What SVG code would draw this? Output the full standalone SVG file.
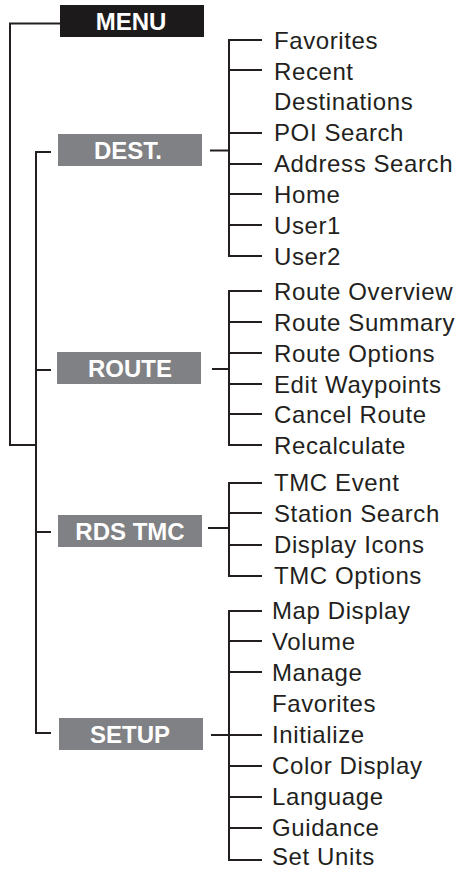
<svg xmlns="http://www.w3.org/2000/svg" width="461" height="870" viewBox="0 0 461 870">
<style>
.bx{fill:#808184}
.bk{fill:#1d1a1b}
.hd{font-family:"Liberation Sans",Arial,sans-serif;font-weight:bold;font-size:24px;fill:#fff;text-anchor:middle}
.it{font-family:"Liberation Sans",Arial,sans-serif;font-size:24px;letter-spacing:0.6px;fill:#231f20}
.ln{fill:none;stroke:#231f20;stroke-width:2}
</style>
<rect width="461" height="870" fill="#fff"/>
<g id="connectors" class="ln">
<path d="M60,23.5H10V445H36"/>
<path d="M51,152H36V733H51"/>
<path d="M36,370H51"/>
<path d="M36,532H51"/>
<path d="M210,150.5H229"/>
<path d="M262,40H229V256H262M229,70H262M229,133H262M229,164H262M229,194H262M229,225H262"/>
<path d="M212,369H229"/>
<path d="M262,291H229V445H262M229,322H262M229,353H262M229,384H262M229,414H262"/>
<path d="M208,528H229"/>
<path d="M262,483H229V576H262M229,513H262M229,545H262"/>
<path d="M211,735H262"/>
<path d="M262,611H229V860H262M229,641H262M229,672H262M229,766H262M229,797H262M229,828H262"/>
</g>
<g id="menu"><rect class="bk" x="60" y="5" width="144" height="32"/><text class="hd" x="131" y="30">MENU</text></g>
<g id="dest"><rect class="bx" x="58" y="134" width="144" height="32"/><text class="hd" x="128" y="159">DEST.</text></g>
<g id="route"><rect class="bx" x="57" y="352" width="144" height="32"/><text class="hd" x="130" y="377">ROUTE</text></g>
<g id="rdstmc"><rect class="bx" x="58" y="515" width="144" height="32"/><text class="hd" x="130" y="540">RDS TMC</text></g>
<g id="setup"><rect class="bx" x="59" y="718" width="144" height="32"/><text class="hd" x="130" y="743">SETUP</text></g>
<g id="dest-items" class="it">
<text x="274" y="48.5">Favorites</text>
<text x="274" y="79.5">Recent</text>
<text x="274" y="110">Destinations</text>
<text x="274" y="141">POI Search</text>
<text x="274" y="172">Address Search</text>
<text x="274" y="202.5">Home</text>
<text x="274" y="233.5">User1</text>
<text x="274" y="264.5">User2</text>
</g>
<g id="route-items" class="it">
<text x="274" y="300">Route Overview</text>
<text x="274" y="331">Route Summary</text>
<text x="274" y="361.5">Route Options</text>
<text x="274" y="392.5">Edit Waypoints</text>
<text x="274" y="423">Cancel Route</text>
<text x="274" y="453.5">Recalculate</text>
</g>
<g id="rds-items" class="it">
<text x="274" y="491">TMC Event</text>
<text x="274" y="521.5">Station Search</text>
<text x="274" y="553">Display Icons</text>
<text x="274" y="584">TMC Options</text>
</g>
<g id="setup-items" class="it">
<text x="272" y="619">Map Display</text>
<text x="272" y="649.5">Volume</text>
<text x="272" y="680.5">Manage</text>
<text x="272" y="711.5">Favorites</text>
<text x="272" y="743">Initialize</text>
<text x="272" y="774">Color Display</text>
<text x="272" y="805">Language</text>
<text x="272" y="836">Guidance</text>
<text x="272" y="864.5">Set Units</text>
</g>
</svg>
